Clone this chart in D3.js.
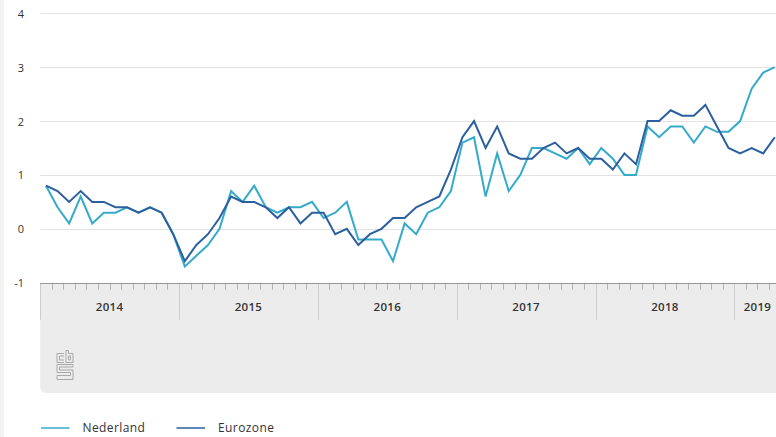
<!DOCTYPE html>
<html>
<head>
<meta charset="utf-8">
<script src="https://cdn.jsdelivr.net/npm/d3@7/dist/d3.min.js"></script>
<style>
  html, body { margin: 0; padding: 0; background: #ffffff; }
  svg { display: block; font-family: "Open Sans", "Noto Sans", sans-serif; }
</style>
</head>
<body>
<svg id="chart" width="776" height="437"></svg>
<script>
// ---- Data (monthly, Jan 2014 – Apr 2019) ----
const years = ["2014", "2015", "2016", "2017", "2018", "2019"];
const monthsPerYear = [12, 12, 12, 12, 12, 4];
const nederland = [
  0.8, 0.4, 0.1, 0.6, 0.1, 0.3, 0.3, 0.4, 0.3, 0.4, 0.3, -0.1,
  -0.7, -0.5, -0.3, 0.0, 0.7, 0.5, 0.8, 0.4, 0.3, 0.4, 0.4, 0.5,
  0.2, 0.3, 0.5, -0.2, -0.2, -0.2, -0.6, 0.1, -0.1, 0.3, 0.4, 0.7,
  1.6, 1.7, 0.6, 1.4, 0.7, 1.0, 1.5, 1.5, 1.4, 1.3, 1.5, 1.2,
  1.5, 1.3, 1.0, 1.0, 1.9, 1.7, 1.9, 1.9, 1.6, 1.9, 1.8, 1.8,
  2.0, 2.6, 2.9, 3.0
];
const eurozone = [
  0.8, 0.7, 0.5, 0.7, 0.5, 0.5, 0.4, 0.4, 0.3, 0.4, 0.3, -0.1,
  -0.6, -0.3, -0.1, 0.2, 0.6, 0.5, 0.5, 0.4, 0.2, 0.4, 0.1, 0.3,
  0.3, -0.1, 0.0, -0.3, -0.1, 0.0, 0.2, 0.2, 0.4, 0.5, 0.6, 1.1,
  1.7, 2.0, 1.5, 1.9, 1.4, 1.3, 1.3, 1.5, 1.6, 1.4, 1.5, 1.3,
  1.3, 1.1, 1.4, 1.2, 2.0, 2.0, 2.2, 2.1, 2.1, 2.3, 1.9, 1.5,
  1.4, 1.5, 1.4, 1.7
];
const yTicks = [-1, 0, 1, 2, 3, 4];
const seriesNames = ["Nederland", "Eurozone"];
const seriesColors = ["#35abc9", "#2c5f9e"];

// ---- Layout ----
const svg = d3.select("#chart");
const W = 776, H = 437;
const plotLeft = 40.2, plotRightFull = 780.6;
const totalMonths = d3.sum(monthsPerYear);

const x = d3.scaleLinear().domain([0, totalMonths]).range([plotLeft, plotRightFull]);
const y = d3.scaleLinear().domain([-1, 4]).range([282.7, 13.3]);

// left page strip
svg.append("rect").attr("x", 0).attr("y", 0).attr("width", 4).attr("height", H).attr("fill", "#f3f3f3");

// gridlines
svg.append("g").selectAll("line")
  .data(yTicks.filter(d => d > -1))
  .join("line")
  .attr("x1", plotLeft).attr("x2", W)
  .attr("y1", d => Math.round(y(d)) + 0.5).attr("y2", d => Math.round(y(d)) + 0.5)
  .attr("stroke", "#e3e3e3").attr("stroke-width", 1);

// y tick labels
svg.append("g").selectAll("text")
  .data(yTicks)
  .join("text")
  .attr("x", 24).attr("y", d => y(d))
  .attr("text-anchor", "end")
  .attr("dominant-baseline", "central")
  .attr("font-size", 11)
  .attr("fill", "#333")
  .text(d => d);

// x-axis band
const bandTop = y(-1), bandBottom = 393, r = 6;
svg.append("path")
  .attr("d", `M${plotLeft},${bandTop} H${W + 2} V${bandBottom} H${plotLeft + r} A${r},${r} 0 0 1 ${plotLeft},${bandBottom - r} Z`)
  .attr("fill", "#ececec");

// month ticks
const monthIdx = d3.range(0, totalMonths + 1);
svg.append("g").selectAll("line")
  .data(monthIdx.filter(i => i % 12 !== 0))
  .join("line")
  .attr("x1", i => Math.round(x(i)) + 0.5).attr("x2", i => Math.round(x(i)) + 0.5)
  .attr("y1", bandTop).attr("y2", bandTop + 7)
  .attr("stroke", "#b3b3b3").attr("stroke-width", 1);

// year ticks
const yearStarts = d3.cumsum([0, ...monthsPerYear.slice(0, -1)]);
svg.append("g").selectAll("line")
  .data(Array.from(yearStarts))
  .join("line")
  .attr("x1", i => Math.round(x(i)) + 0.5).attr("x2", i => Math.round(x(i)) + 0.5)
  .attr("y1", bandTop).attr("y2", bandTop + 37)
  .attr("stroke", "#cdcdcd").attr("stroke-width", 1);

// axis line
svg.append("line")
  .attr("x1", plotLeft).attr("x2", W)
  .attr("y1", Math.round(bandTop) + 0.5).attr("y2", Math.round(bandTop) + 0.5)
  .attr("stroke", "#9a9a9a").attr("stroke-width", 1);

// year labels
svg.append("g").selectAll("text")
  .data(years.map((yr, k) => ({ yr, start: yearStarts[k], n: monthsPerYear[k] })))
  .join("text")
  .attr("x", d => x(d.start + d.n / 2))
  .attr("y", 311)
  .attr("text-anchor", "middle")
  .attr("font-size", 11.5)
  .attr("font-weight", 600)
  .attr("letter-spacing", 0.3)
  .attr("fill", "#333")
  .text(d => d.yr);

// CBS logo (approximation)
const logo = svg.append("g").attr("transform", "translate(56.5,350)")
  .attr("fill", "none").attr("stroke", "#a9a9a9").attr("stroke-width", 1);
logo.append("path").attr("d", "M7.5,3.5 H0.5 V12.5 H7.5 M7.5,6 H3 V10 H7.5");
logo.append("path").attr("d", "M9.5,0.5 V12.5 H16.5 V3.5 H12 V0.5 Z M12,6 H14 V10 H12 Z");
logo.append("path").attr("d", "M16.5,14.5 H0.5 V22.5 H14 V25.5 H0.5 V29.5 H16.5 V20 H3 V17 H16.5 Z");

// lines
const line = d3.line()
  .x((d, i) => x(i + 0.5))
  .y(d => y(d));
[nederland, eurozone].forEach((vals, k) => {
  svg.append("path")
    .datum(vals)
    .attr("d", line)
    .attr("fill", "none")
    .attr("stroke", seriesColors[k])
    .attr("stroke-width", 2)
    .attr("stroke-linejoin", "miter");
});

// legend
const legendItems = [
  { name: seriesNames[0], color: seriesColors[0], x: 41 },
  { name: seriesNames[1], color: seriesColors[1], x: 176.5 }
];
const lg = svg.append("g").selectAll("g").data(legendItems).join("g");
lg.append("line")
  .attr("x1", d => d.x).attr("x2", d => d.x + 28.5)
  .attr("y1", 428).attr("y2", 428)
  .attr("stroke", d => d.color).attr("stroke-width", 2).attr("opacity", 0.75);
lg.append("text")
  .attr("x", d => d.x + 41.5).attr("y", 432)
  .attr("font-size", 12)
  .attr("letter-spacing", 0.4)
  .attr("fill", "#333")
  .text(d => d.name);
</script>
</body>
</html>
